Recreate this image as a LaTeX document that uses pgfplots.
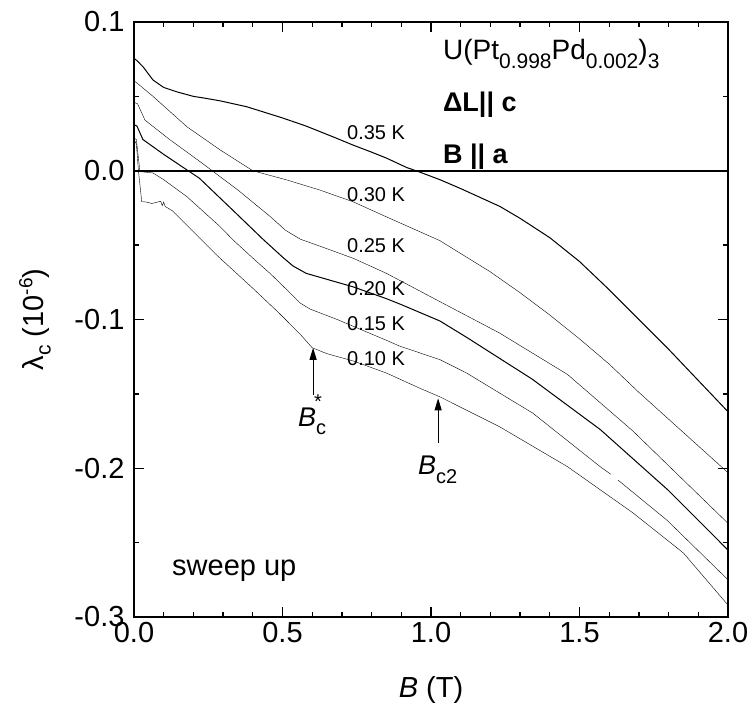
\documentclass[border=0pt]{standalone}
\usepackage{pgfplots}
\pgfplotsset{compat=1.18}
\usepackage{fontspec}
\setmainfont{Liberation Sans}
\usetikzlibrary{arrows.meta}
\newcommand{\fs}[1]{\fontsize{#1}{#1}\selectfont}
\begin{document}
\begin{tikzpicture}
\begin{axis}[
  scale only axis, width=594pt, height=595pt,
  xmin=0, xmax=2, ymin=-0.3, ymax=0.1,
  xtick={0,0.5,1,1.5,2}, xticklabels={0.0,0.5,1.0,1.5,2.0},
  ytick={-0.3,-0.2,-0.1,0,0.1}, yticklabels={-0.3,-0.2,-0.1,0.0,0.1},
  minor x tick num=4, minor y tick num=1,
  tick align=inside, tickwidth=10pt, subtickwidth=5pt,
  xtick style={draw=black, line width=1.3pt},
  ytick style={draw=black, line width=1.3pt},
  axis on top,
  axis line style={line width=1.8pt},
  ticklabel style={font=\fs{29}},
  xticklabel style={yshift=-2pt},
  yticklabel style={xshift=-6pt},
  xlabel={\textit{B} (T)}, ylabel={λ\raisebox{-0.45ex}{\fs{21}c} (10\raisebox{0.75ex}{\fs{19}-6})},
  xlabel style={font=\fs{29}, at={(axis description cs:0.5,0)}, anchor=center, yshift=-73pt},
  ylabel style={font=\fs{29}, at={(axis description cs:0,0.5)}, anchor=center, yshift=99pt},
  unbounded coords=jump,
  cycle list={{black, line width=1pt, mark=none}},
  clip=true,
]
% zero line
\addplot[black, line width=2.2pt] coordinates {(0,0) (2,0)};
% 0.35 K
\addplot coordinates {(0,0.0756) (0.01,0.074) (0.03,0.070) (0.064,0.061) (0.1,0.056) (0.145,0.053) (0.2,0.050) (0.232,0.049) (0.29,0.047) (0.38,0.043) (0.50,0.0355) (0.58,0.030) (0.68,0.022) (0.737,0.0173) (0.80,0.0125) (0.85,0.0085) (0.92,0.002) (0.95,0.0) (1.03,-0.006) (1.1,-0.012) (1.232,-0.024) (1.3,-0.032) (1.4,-0.045) (1.5,-0.061) (1.6,-0.080) (1.7,-0.100) (1.8,-0.120) (1.9,-0.141) (2.0,-0.162)};
% 0.30 K
\addplot coordinates {(0,0.0605) (0.01,0.059) (0.064,0.050) (0.178,0.0296) (0.29,0.014) (0.40,0.0) (0.515,-0.0062) (0.626,-0.013) (0.737,-0.0208) (0.85,-0.031) (1.03,-0.047) (1.2,-0.068) (1.3,-0.082) (1.4,-0.097) (1.5,-0.113) (1.6,-0.130) (1.7,-0.149) (1.8,-0.167) (1.9,-0.185) (2.0,-0.203)};
% 0.25 K
\addplot coordinates {(0,0.046) (0.012,0.045) (0.037,0.034) (0.12,0.021) (0.23,0.005) (0.35,-0.013) (0.46,-0.031) (0.51,-0.040) (0.56,-0.046) (0.63,-0.051) (0.74,-0.059) (0.85,-0.069) (1.03,-0.088) (1.23,-0.109) (1.46,-0.137) (1.68,-0.175) (1.85,-0.208) (2.0,-0.237)};
% 0.20 K
\addplot coordinates {(0,0.031) (0.01,0.030) (0.03,0.021) (0.1,0.011) (0.22,-0.005) (0.33,-0.026) (0.434,-0.046) (0.5,-0.058) (0.535,-0.064) (0.58,-0.069) (0.737,-0.078) (0.85,-0.086) (0.9,-0.090) (1.03,-0.101) (1.12,-0.112) (1.34,-0.140) (1.57,-0.174) (1.8,-0.215) (2.0,-0.255)};
% 0.15 K
\addplot coordinates {(0,0.022) (0.008,0.021) (0.02,-0.0006) (0.04,-0.001) (0.064,-0.0015) (0.1,-0.006) (0.178,-0.0174) (0.29,-0.0376) (0.334,-0.0466) (0.407,-0.060) (0.458,-0.069) (0.53,-0.083) (0.56,-0.089) (0.593,-0.093) (0.684,-0.100) (0.85,-0.114) (0.896,-0.118) (1.03,-0.127) (1.12,-0.136) (1.343,-0.163) (1.57,-0.199) (1.605,-0.204) (1.615,nan) (1.63,-0.208) (1.795,-0.235) (2.0,-0.275)};
% 0.10 K
\addplot coordinates {(0,0.021) (0.008,0.018) (0.015,0.0) (0.026,-0.0208) (0.04,-0.021) (0.06,-0.022) (0.08,-0.021) (0.09,-0.0205) (0.095,-0.0235) (0.1,-0.021) (0.105,-0.024) (0.13,-0.027) (0.2,-0.041) (0.28,-0.057) (0.40,-0.079) (0.49,-0.096) (0.56,-0.110) (0.60,-0.119) (0.65,-0.123) (0.74,-0.128) (0.85,-0.136) (0.96,-0.146) (1.03,-0.152) (1.23,-0.172) (1.46,-0.199) (1.68,-0.230) (1.85,-0.257) (2.0,-0.292)};
% temperature labels
\node[font=\fs{20}] at (axis cs:0.815,0.0254) {0.35 K};
\node[font=\fs{20}] at (axis cs:0.815,-0.0163) {0.30 K};
\node[font=\fs{20}] at (axis cs:0.815,-0.0506) {0.25 K};
\node[font=\fs{20}] at (axis cs:0.815,-0.0795) {0.20 K};
\node[font=\fs{20}] at (axis cs:0.815,-0.103) {0.15 K};
\node[font=\fs{20}] at (axis cs:0.815,-0.1266) {0.10 K};
% arrows
\draw[line width=1pt, -{Triangle[length=12pt,width=7pt]}] (axis cs:0.603,-0.1508) -- (axis cs:0.603,-0.119);
\draw[line width=1pt, -{Triangle[length=12pt,width=7pt]}] (axis cs:1.024,-0.183) -- (axis cs:1.024,-0.153);
\node[anchor=base west, inner sep=0pt, font=\fs{27}] at (axis cs:0.552,-0.172) {\textit{B}\raisebox{-0.55ex}{\fs{20}c}\hspace{-0.45em}\raisebox{1.3ex}{\fs{20}*}};
\node[anchor=base west, inner sep=0pt, font=\fs{27}] at (axis cs:0.956,-0.2045) {\textit{B}\raisebox{-0.6ex}{\fs{20}c2}};
% info text
\node[anchor=base west, inner sep=0pt, font=\fs{28}] at (axis cs:1.04,0.0745) {U(Pt\raisebox{-0.55ex}{\fs{21}0.998}Pd\raisebox{-0.55ex}{\fs{21}0.002})\raisebox{-0.55ex}{\fs{21}3}};
\node[anchor=base west, inner sep=0pt, font=\fs{27}\bfseries] at (axis cs:1.04,0.0395) {ΔL|| c};
\node[anchor=base west, inner sep=0pt, font=\fs{27}\bfseries] at (axis cs:1.04,0.0052) {B || a};
\node[anchor=base west, inner sep=0pt, font=\fs{29}] at (axis cs:0.128,-0.2718) {sweep up};
\end{axis}
\path ([shift={(-134pt,-97pt)}]current axis.south west) rectangle ([shift={(27pt,22pt)}]current axis.north east);
\end{tikzpicture}
\end{document}
